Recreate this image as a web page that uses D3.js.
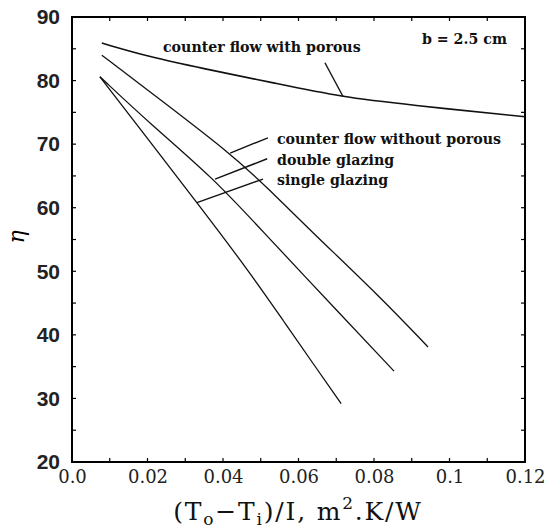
<!DOCTYPE html>
<html>
<head>
<meta charset="utf-8">
<script src="https://cdn.jsdelivr.net/npm/d3@7"></script>
<style>
  body { margin: 0; background: white; }
  svg { display: block; }
</style>
</head>
<body>
<svg width="550" height="529"></svg>
<script>
// === Data

const X_TICKS = [0, 0.02, 0.04, 0.06, 0.08, 0.1, 0.12];
const X_TICK_LABELS = ['0.0', '0.02', '0.04', '0.06', '0.08', '0.1', '0.12'];
const Y_TICKS = [20, 30, 40, 50, 60, 70, 80, 90];

const POROUS_X = [0.0079, 0.0207, 0.0339, 0.0537, 0.0715, 0.089, 0.12];
const POROUS_Y = [85.9, 83.7, 82.0, 79.6, 77.4, 76.2, 74.3];
const NO_POROUS_X = [0.0079, 0.0207, 0.0419, 0.0524, 0.063, 0.0816, 0.0943];
const NO_POROUS_Y = [84.0, 78.2, 68.6, 62.8, 56.5, 46.0, 38.1];
const DOUBLE_X = [0.0074, 0.0207, 0.0374, 0.0511, 0.0707, 0.0853];
const DOUBLE_Y = [80.6, 73.2, 64.7, 55.9, 43.5, 34.3];
const SINGLE_X = [0.0074, 0.02, 0.0331, 0.0472, 0.0559, 0.0649, 0.0713];
const SINGLE_Y = [80.6, 70.9, 60.8, 49.75, 42.3, 34.6, 29.2];

// labels: [text, x, y] and their leader lines [x1, y1, x2, y2]
const LABELS = [
  ['counter flow with porous', 0.0241, 85.3],
  ['counter flow without porous', 0.0543, 70.8],
  ['double glazing', 0.0543, 67.5],
  ['single glazing', 0.0543, 64.4]
];
const LEADERS = [
  [0.0670, 82.8, 0.0718, 77.5],
  [0.0419, 68.6, 0.0519, 71.0],
  [0.0379, 64.5, 0.0517, 67.7],
  [0.0331, 60.8, 0.0506, 64.5]
];
const NOTE = ['b = 2.5 cm', 0.0927, 86.5];


// === Config

const FRAME = { left: 72, top: 17, right: 525, bottom: 462 };
const LABEL_FONT = '"DejaVu Serif", serif';

function main() {
  const svg = d3.select('svg');

  const x = d3.scaleLinear().domain([0, 0.12]).range([FRAME.left, FRAME.right]);
  const y = d3.scaleLinear().domain([20, 90]).range([FRAME.bottom, FRAME.top]);

  // minor ticks, inward on all four sides
  const xMinor = d3.range(0, 0.1201, 0.01);
  const yMinor = d3.range(20, 90.1, 5);
  const tickLen = 4;
  const ticks = svg.append('g').attr('stroke', 'black').attr('stroke-width', 1.2);
  xMinor.forEach(function(v) {
    ticks.append('line').attr('x1', x(v)).attr('x2', x(v)).attr('y1', FRAME.bottom).attr('y2', FRAME.bottom - tickLen);
    ticks.append('line').attr('x1', x(v)).attr('x2', x(v)).attr('y1', FRAME.top).attr('y2', FRAME.top + tickLen);
  });
  yMinor.forEach(function(v) {
    ticks.append('line').attr('x1', FRAME.left).attr('x2', FRAME.left + tickLen).attr('y1', y(v)).attr('y2', y(v));
    ticks.append('line').attr('x1', FRAME.right).attr('x2', FRAME.right - tickLen).attr('y1', y(v)).attr('y2', y(v));
  });

  // frame
  svg.append('rect')
    .attr('x', FRAME.left).attr('y', FRAME.top)
    .attr('width', FRAME.right - FRAME.left).attr('height', FRAME.bottom - FRAME.top)
    .attr('fill', 'none').attr('stroke', 'black').attr('stroke-width', 2);

  // axes labels (tick text only)
  const yAxis = d3.axisLeft(y).tickValues(Y_TICKS).tickSize(0).tickPadding(12);
  svg.append('g')
    .attr('transform', `translate(${FRAME.left},0)`)
    .call(yAxis)
    .call(g => g.select('.domain').remove())
    .selectAll('text')
    .attr('font-family', '"Liberation Sans", Arial, sans-serif')
    .attr('font-weight', 'bold')
    .attr('font-size', 21)
    .attr('fill', '#222');

  const xAxis = d3.axisBottom(x).tickValues(X_TICKS).tickSize(0).tickPadding(8)
    .tickFormat((d, i) => X_TICK_LABELS[i]);
  svg.append('g')
    .attr('transform', `translate(0,${FRAME.bottom})`)
    .call(xAxis)
    .call(g => g.select('.domain').remove())
    .selectAll('text')
    .attr('font-family', LABEL_FONT)
    .attr('font-size', 18)
    .attr('fill', '#222');

  // curves
  const line = d3.line().x(d => x(d[0])).y(d => y(d[1])).curve(d3.curveBasis);
  const series = [
    [POROUS_X, POROUS_Y, 1.6],
    [NO_POROUS_X, NO_POROUS_Y, 1.3],
    [DOUBLE_X, DOUBLE_Y, 1.3],
    [SINGLE_X, SINGLE_Y, 1.3]
  ];
  series.forEach(function(s) {
    svg.append('path')
      .datum(d3.zip(s[0], s[1]))
      .attr('d', line)
      .attr('fill', 'none')
      .attr('stroke', '#111')
      .attr('stroke-width', s[2]);
  });

  // leaders + labels
  LEADERS.forEach(function(l) {
    svg.append('line')
      .attr('x1', x(l[0])).attr('y1', y(l[1]))
      .attr('x2', x(l[2])).attr('y2', y(l[3]))
      .attr('stroke', '#111').attr('stroke-width', 1.4);
  });
  LABELS.concat([NOTE]).forEach(function(l) {
    svg.append('text')
      .attr('x', x(l[1])).attr('y', y(l[2]))
      .attr('dy', '0.35em')
      .attr('font-family', LABEL_FONT)
      .attr('font-weight', 'bold')
      .attr('font-size', 14.2)
      .attr('fill', '#111')
      .text(l[0]);
  });

  // axis titles
  svg.append('text')
    .attr('transform', 'translate(24,237) rotate(-90)')
    .attr('text-anchor', 'middle')
    .attr('font-family', LABEL_FONT)
    .attr('font-style', 'italic')
    .attr('font-size', 22)
    .text('η');

  const title = svg.append('text')
    .attr('x', 298).attr('y', 520)
    .attr('text-anchor', 'middle')
    .attr('font-family', LABEL_FONT)
    .attr('font-size', 25)
    .attr('letter-spacing', 1.8)
    .attr('fill', '#111');
  title.append('tspan').text('(T');
  title.append('tspan').attr('font-size', 17).attr('dy', 5).text('o');
  title.append('tspan').attr('dy', -5).text('−T');
  title.append('tspan').attr('font-size', 17).attr('dy', 5).text('i');
  title.append('tspan').attr('dy', -5).text(')/I, m');
  title.append('tspan').attr('font-size', 17).attr('dy', -11).text('2');
  title.append('tspan').attr('dy', 11).text('.K/W');
}


// === Init

main();
</script>
</body>
</html>
